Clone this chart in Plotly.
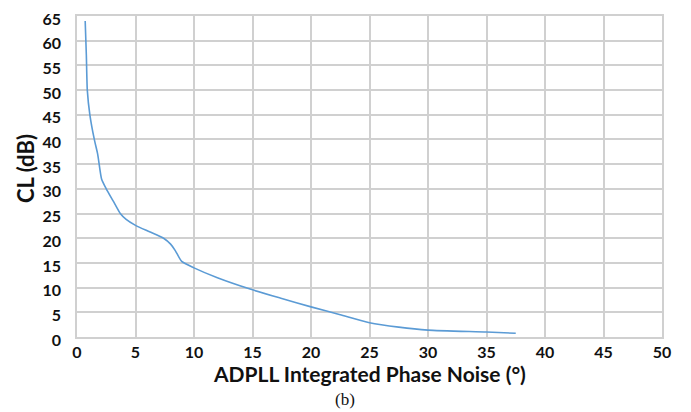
import plotly.graph_objects as go

phase_noise = [0.7, 0.8, 0.88, 1.1, 1.48, 1.77, 2.1, 2.5, 3.1, 3.7, 4.2, 5.0, 6.2, 7.4, 8.0, 8.4, 8.95, 10.0, 12.0, 14.8, 17.5, 20.0, 22.5, 25.0, 27.5, 30.0, 35.0, 37.5]
cl_db       = [64.0, 57.0, 50.0, 45.0, 40.0, 37.0, 32.0, 30.0, 27.5, 25.0, 23.8, 22.6, 21.3, 20.0, 18.8, 17.5, 15.3, 14.0, 12.0, 9.7, 7.8, 6.1, 4.5, 2.9, 2.0, 1.4, 1.0, 0.75]

x_ticks = list(range(0, 51, 5))
y_ticks = list(range(0, 66, 5))

fig = go.Figure()
fig.add_trace(go.Scatter(
    x=phase_noise, y=cl_db, mode="lines",
    line=dict(color="#5b9bd5", width=1.6, shape="spline", smoothing=0.6),
    showlegend=False,
))

FONT = "Lato, Open Sans, sans-serif"
tick_font = dict(family=FONT, size=16, color="#111111")

# page body has an 8px margin: figure is drawn at offset (8, 8)
W, H = 683, 404
L, T = 69, 8
PW, PH = 585, 321

fig.update_layout(
    width=W, height=H,
    margin=dict(l=L, r=W - L - PW, t=T, b=H - T - PH),
    paper_bgcolor="white", plot_bgcolor="white",
    xaxis=dict(
        range=[0, 50], tickvals=x_ticks, ticktext=[f"<b>{v}</b>" for v in x_ticks],
        showgrid=True, gridcolor="#d0d0d0", gridwidth=1.5,
        showline=True, linecolor="#d0d0d0", linewidth=1.5, mirror=True,
        zeroline=False, tickfont=tick_font, ticks="", ticklen=0,
        automargin=False, ticklabeloverflow="allow",
    ),
    yaxis=dict(
        range=[0, 65], tickvals=y_ticks, ticktext=[f"<b>{v}</b>" for v in y_ticks],
        showgrid=True, gridcolor="#d0d0d0", gridwidth=1.5,
        showline=True, linecolor="#d0d0d0", linewidth=1.5, mirror=True,
        zeroline=False, tickfont=tick_font, ticks="outside", ticklen=11, tickcolor="rgba(0,0,0,0)",
        automargin=False, ticklabeloverflow="allow", ticklabelshift=3,
    ),
    annotations=[
        dict(text="<b>ADPLL Integrated Phase Noise (°)</b>", xref="paper", yref="paper",
             x=0.5, y=-37 / PH, yanchor="middle", showarrow=False,
             font=dict(family=FONT, size=21, color="#111111")),
        dict(text="<b>CL (dB)</b>", xref="paper", yref="paper", textangle=-90,
             x=-52 / PW, y=(337 - 169) / PH, xanchor="center", yanchor="middle",
             showarrow=False, font=dict(family=FONT, size=22, color="#111111")),
        dict(text="(b)", xref="paper", yref="paper", x=(345 - 77) / PW, y=-62 / PH, yanchor="middle",
             showarrow=False, font=dict(family="Liberation Serif, serif", size=17, color="#111111")),
    ],
)

fig.write_html("out.html")
